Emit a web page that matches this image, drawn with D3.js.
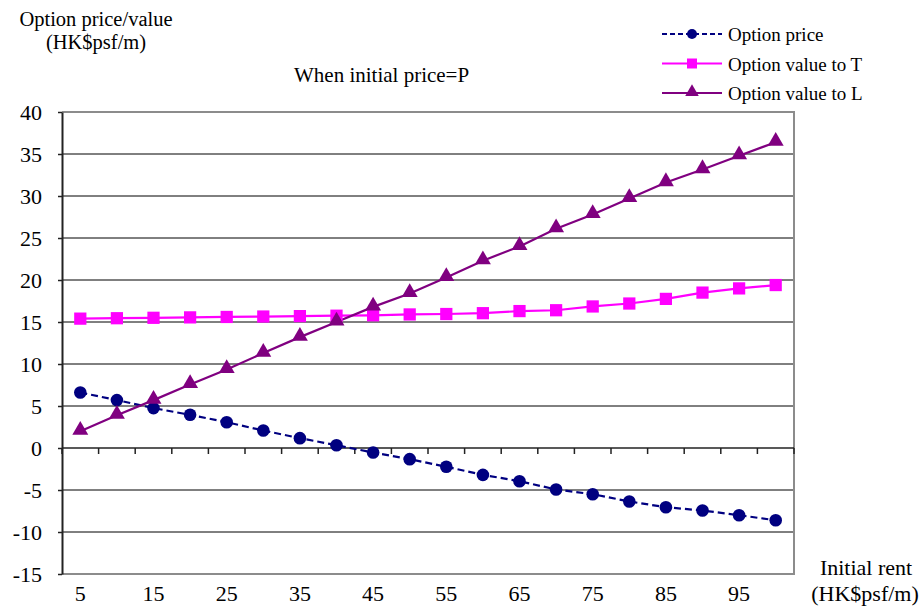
<!DOCTYPE html>
<html>
<head>
<meta charset="utf-8">
<script src="https://cdn.jsdelivr.net/npm/d3@7"></script>
<style>
  html, body { margin: 0; padding: 0; background: #fff; }
  svg { display: block; font-family: "Liberation Serif", "Times New Roman", serif; }
</style>
</head>
<body>
<svg id="chart" width="922" height="607"></svg>
<script>
const categories = [5,10,15,20,25,30,35,40,45,50,55,60,65,70,75,80,85,90,95,100];
const optionPrice = [6.6,5.7,4.75,3.95,3.07,2.08,1.17,0.33,-0.54,-1.33,-2.24,-3.2,-3.95,-4.94,-5.5,-6.37,-7.05,-7.44,-8.0,-8.6];
const valueToT = [15.4,15.45,15.5,15.55,15.6,15.65,15.7,15.75,15.8,15.9,15.95,16.05,16.3,16.4,16.85,17.2,17.75,18.5,19.0,19.4];
const valueToL = [2.0,3.9,5.7,7.56,9.35,11.3,13.2,15.0,16.8,18.4,20.3,22.3,24.0,26.1,27.8,29.7,31.6,33.15,34.8,36.4];
const yTicks = [40,35,30,25,20,15,10,5,0,-5,-10,-15];
const xLabels = [5,15,25,35,45,55,65,75,85,95];
const seriesNames = ["Option price","Option value to T","Option value to L"];

const svg = d3.select("#chart");
const L = 62, R = 794, T = 112, B = 574;

const x = d3.scaleBand().domain(categories).range([L, R]).padding(0);
const y = d3.scaleLinear().domain([-15, 40]).range([B, T]);
const cx = d => x(d) + x.bandwidth() / 2;

// gridlines
svg.append("g").selectAll("line")
  .data(yTicks.filter(v => v !== 40 && v !== -15 && v !== 0))
  .join("line")
  .attr("x1", L).attr("x2", R)
  .attr("y1", d => y(d)).attr("y2", d => y(d))
  .attr("stroke", "#000").attr("stroke-width", 1);

// plot border (gray)
svg.append("path")
  .attr("d", `M${L},${y(40)}H${R}V${y(-15)}H${L}`)
  .attr("fill", "none").attr("stroke", "#8c8c8c").attr("stroke-width", 2);

// y axis
const yAxis = d3.axisLeft(y).tickValues(yTicks).tickSize(4).tickSizeOuter(0).tickFormat(d3.format("d"));
const gy = svg.append("g").attr("transform", `translate(${L},0)`).call(yAxis);
gy.select(".domain").attr("stroke", "#222").attr("stroke-width", 2);
gy.selectAll(".tick line").attr("stroke", "#222").attr("stroke-width", 1.5);
gy.selectAll(".tick text")
  .attr("x", -20).attr("dy", "0.34em")
  .attr("font-family", "Liberation Serif, serif").attr("font-size", 22).attr("fill", "#000")
  .text(d => d < 0 ? "-" + Math.abs(d) : d);

// x axis at zero line with ticks at category boundaries
const boundaries = categories.map(c => x(c)).concat([R]);
const gx = svg.append("g");
gx.append("line").attr("x1", L).attr("x2", R).attr("y1", y(0)).attr("y2", y(0))
  .attr("stroke", "#222").attr("stroke-width", 1.5);
gx.selectAll("line.tk").data(boundaries).join("line").attr("class", "tk")
  .attr("x1", d => d).attr("x2", d => d)
  .attr("y1", y(0)).attr("y2", y(0) + 6)
  .attr("stroke", "#222").attr("stroke-width", 1.5);

// x labels
svg.append("g").selectAll("text").data(xLabels).join("text")
  .attr("x", d => cx(d)).attr("y", 601)
  .attr("text-anchor", "middle").attr("font-size", 22).attr("fill", "#000")
  .text(d => d);

// lines
const line = d3.line().x((d, i) => cx(categories[i])).y(d => y(d));

svg.append("path").datum(optionPrice).attr("d", line)
  .attr("fill", "none").attr("stroke", "#000080").attr("stroke-width", 2.2)
  .attr("stroke-dasharray", "7,4");
svg.append("path").datum(valueToT).attr("d", line)
  .attr("fill", "none").attr("stroke", "#ff00ff").attr("stroke-width", 2.2);
svg.append("path").datum(valueToL).attr("d", line)
  .attr("fill", "none").attr("stroke", "#800080").attr("stroke-width", 2.2);

const sqSym = d3.symbol().type(d3.symbolSquare).size(150);
const triSym = d3.symbol().type(d3.symbolTriangle).size(110);

svg.append("g").selectAll("circle").data(optionPrice).join("circle")
  .attr("cx", (d, i) => cx(categories[i])).attr("cy", d => y(d))
  .attr("r", 6.3).attr("fill", "#000080");
svg.append("g").selectAll("path").data(valueToT).join("path")
  .attr("d", sqSym)
  .attr("transform", (d, i) => `translate(${cx(categories[i])},${y(d)})`)
  .attr("fill", "#ff00ff");
svg.append("g").selectAll("path").data(valueToL).join("path")
  .attr("d", triSym)
  .attr("transform", (d, i) => `translate(${cx(categories[i])},${y(d) - 1})`)
  .attr("fill", "#800080");

// legend
const legY = [34, 63.5, 93];
const lg = svg.append("g");
const styles = [
  {c: "#000080", dash: "5,3", m: "circle"},
  {c: "#ff00ff", dash: null, m: "square"},
  {c: "#800080", dash: null, m: "triangle"}
];
seriesNames.forEach((name, i) => {
  const s = styles[i];
  const ly = legY[i];
  const ln = lg.append("line").attr("x1", 662).attr("x2", 722).attr("y1", ly).attr("y2", ly)
    .attr("stroke", s.c).attr("stroke-width", 2.2);
  if (s.dash) ln.attr("stroke-dasharray", s.dash);
  if (s.m === "circle") lg.append("circle").attr("cx", 692).attr("cy", ly).attr("r", 5).attr("fill", s.c);
  if (s.m === "square") lg.append("path").attr("d", d3.symbol().type(d3.symbolSquare).size(100)).attr("transform", `translate(692,${ly})`).attr("fill", s.c);
  if (s.m === "triangle") lg.append("path").attr("d", d3.symbol().type(d3.symbolTriangle).size(80)).attr("transform", `translate(692,${ly - 1})`).attr("fill", s.c);
  lg.append("text").attr("x", 728).attr("y", ly + 7).attr("font-size", 19).attr("fill", "#000").text(name);
});

// titles
svg.append("text").attr("x", 96).attr("y", 26).attr("text-anchor", "middle")
  .attr("font-size", 20.5).text("Option price/value");
svg.append("text").attr("x", 96).attr("y", 49).attr("text-anchor", "middle")
  .attr("font-size", 20.5).text("(HK$psf/m)");
svg.append("text").attr("x", 294).attr("y", 82)
  .attr("font-size", 21).text("When initial price=P");
svg.append("text").attr("x", 866).attr("y", 575).attr("text-anchor", "middle")
  .attr("font-size", 22).text("Initial rent");
svg.append("text").attr("x", 865).attr("y", 601).attr("text-anchor", "middle")
  .attr("font-size", 22).text("(HK$psf/m)");
</script>
</body>
</html>
